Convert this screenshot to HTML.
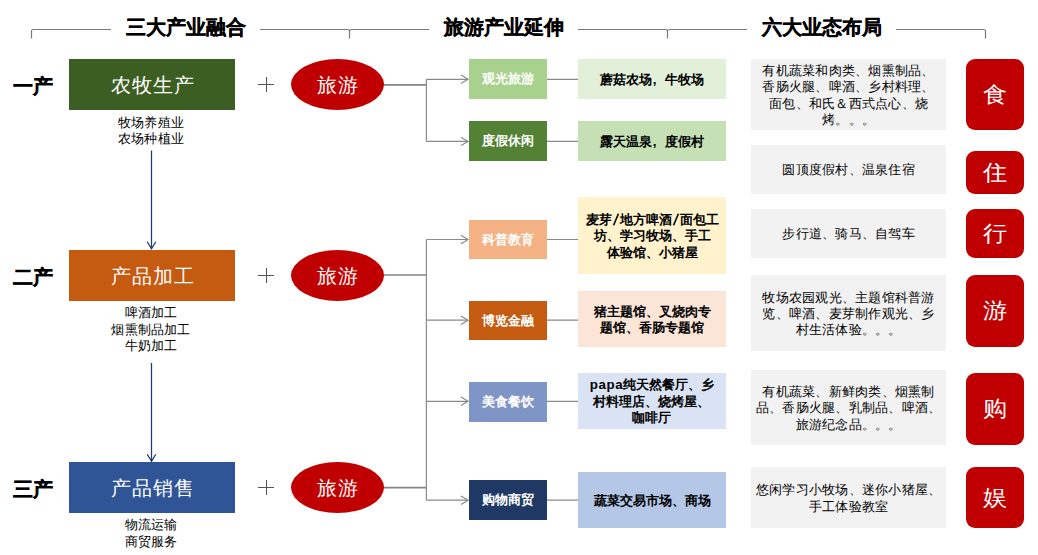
<!DOCTYPE html>
<html><head><meta charset="utf-8">
<style>
*{margin:0;padding:0;box-sizing:border-box}
html,body{width:1038px;height:555px;overflow:hidden;background:#fff}
body{position:relative;font-family:"Liberation Sans",sans-serif;color:#000}
.a{position:absolute}
.hd{position:absolute;font-size:20px;font-weight:bold;line-height:20px;white-space:nowrap;text-align:center;width:140px;-webkit-text-stroke:0.3px #000}
.lb{position:absolute;font-size:20px;font-weight:bold;line-height:20px;white-space:nowrap;left:13px;-webkit-text-stroke:0.35px #000}
.bb{position:absolute;left:69px;width:166px;height:51px;color:#fff;font-size:20px;line-height:53px;text-align:center;letter-spacing:1px;padding-left:1px}
.sub{position:absolute;left:68px;width:166px;font-size:13.33px;line-height:16.2px;letter-spacing:0.2px;text-align:center;color:#000}
.el{position:absolute;left:291px;width:93px;height:51px;border-radius:50%;background:#c00000;color:#fff;font-size:20px;line-height:53px;text-align:center;letter-spacing:1px;padding-left:1px}
.pl{position:absolute;left:258px;width:16px;height:15px}
.pl:before{content:"";position:absolute;left:0;top:7px;width:16px;height:1px;background:#555}
.pl:after{content:"";position:absolute;left:7.5px;top:0;width:1px;height:15px;background:#555}
.mb{position:absolute;left:469px;width:78px;color:#fff;font-weight:bold;font-size:13.33px;display:flex;align-items:center;justify-content:center}
.rb{position:absolute;left:578px;width:148px;color:#000;font-weight:bold;font-size:13.33px;line-height:16.5px;padding-top:2px;display:flex;align-items:center;justify-content:center;text-align:center}
.gb{position:absolute;left:751px;width:195px;background:#f2f2f2;color:#000;font-size:13.33px;letter-spacing:0.25px;line-height:16.1px;padding-top:2px;display:flex;align-items:center;justify-content:center;text-align:center}
.xb span{display:inline-block;transform:scaleX(1.1)}
.xb{position:absolute;left:966px;width:58px;background:#c00000;border-radius:9px;color:#fff;font-size:21.5px;padding-bottom:1px;display:flex;align-items:center;justify-content:center}
#lines{position:absolute;left:0;top:0}
.sl{display:inline-block;width:8px;height:13px;vertical-align:-2px}
.cm{display:inline-block;width:1em;text-align:left;padding-left:1px}
</style></head><body>

<svg id="lines" width="1038" height="555" viewBox="0 0 1038 555">
<g fill="none" stroke="#7a7a7a" stroke-width="1.2">
<path d="M31.5 38.5 V31 Q31.5 29.5 33 29.5 H111"/>
<path d="M260 29.5 H347.5 Q349.5 29.5 349.5 31.5 V38.5 M429 29.5 H351.5 Q349.5 29.5 349.5 31.5"/>
<path d="M578 29.5 H665.5 Q667.5 29.5 667.5 31.5 V38.5 M747 29.5 H669.5 Q667.5 29.5 667.5 31.5"/>
<path d="M896 29.5 H983.5 Q985.5 29.5 985.5 31 V38.5"/>
</g>
<g fill="none" stroke="#858585" stroke-width="1.7">
<path d="M384 84.8 H426.4 M384 275 H426.4 M384 487.6 H426.4"/>
</g>
<g fill="none" stroke="#8a8a8a" stroke-width="1.2">
<path d="M426.4 79.3 V141.4 M426.4 79.3 H468 M426.4 141.4 H468"/>
<path d="M461 75.1 L468 79.3 L461 83.5 M461 137.2 L468 141.4 L461 145.6"/>
<path d="M426.4 239.5 V500.2 M426.4 239.5 H468 M426.4 320.2 H468 M426.4 401.3 H468 M426.4 500.2 H468"/>
<path d="M461 235.3 L468 239.5 L461 243.7 M461 316 L468 320.2 L461 324.4 M461 397.1 L468 401.3 L461 405.5 M461 496 L468 500.2 L461 504.4"/>
<path d="M547 79.3 H578 M547 141.4 H578 M547 239.5 H578 M547 320.2 H578 M547 401.3 H578 M547 500.2 H578"/>
</g>
<g fill="none" stroke="#203a6e" stroke-width="1.25">
<path d="M151.5 150.4 V248.5 M147.2 241.7 L151.5 248.8 L155.8 241.7"/>
<path d="M151.5 363 V461 M147.2 454.3 L151.5 461.4 L155.8 454.3"/>
</g>
</svg>

<div class="hd" style="left:116px;top:17px">三大产业融合</div>
<div class="hd" style="left:434px;top:17px">旅游产业延伸</div>
<div class="hd" style="left:752px;top:17px">六大业态布局</div>

<div class="lb" style="top:76px">一产</div>
<div class="lb" style="top:266.5px">二产</div>
<div class="lb" style="top:478.5px">三产</div>

<div class="bb" style="top:59px;background:#3d5e23">农牧生产</div>
<div class="bb" style="top:250px;background:#c55a11">产品加工</div>
<div class="bb" style="top:462px;background:#2f5597">产品销售</div>

<div class="sub" style="top:114.6px">牧场养殖业<br>农场种植业</div>
<div class="sub" style="top:305.3px">啤酒加工<br>烟熏制品加工<br>牛奶加工</div>
<div class="sub" style="top:517.3px">物流运输<br>商贸服务</div>

<div class="pl" style="top:77px"></div>
<div class="pl" style="top:268px"></div>
<div class="pl" style="top:480px"></div>

<div class="el" style="top:59px">旅游</div>
<div class="el" style="top:250px">旅游</div>
<div class="el" style="top:462px">旅游</div>

<div class="mb" style="top:59px;height:40px;background:#a9d18e">观光旅游</div>
<div class="mb" style="top:121px;height:40px;background:#548235">度假休闲</div>
<div class="mb" style="top:220px;height:39px;background:#f4b183">科普教育</div>
<div class="mb" style="top:301px;height:39px;background:#c55a11">博览金融</div>
<div class="mb" style="top:382px;height:40px;background:#7f95c5">美食餐饮</div>
<div class="mb" style="top:480px;height:40px;background:#1f3864">购物商贸</div>

<div class="rb" style="top:59px;height:40px;background:#e2f0d9">蘑菇农场<span class="cm">,</span>牛牧场</div>
<div class="rb" style="top:121px;height:40px;background:#c5e0b4">露天温泉<span class="cm">,</span>度假村</div>
<div class="rb" style="top:197px;height:77px;background:#fff2cc"><div>麦芽<svg class="sl" viewBox="0 0 8 13"><path d="M1.6 12.3 L6.4 0.8" stroke="#000" stroke-width="1.6" fill="none"/></svg>地方啤酒<svg class="sl" viewBox="0 0 8 13"><path d="M1.6 12.3 L6.4 0.8" stroke="#000" stroke-width="1.6" fill="none"/></svg>面包工<br>坊、学习牧场、手工<br>体验馆、小猪屋</div></div>
<div class="rb" style="top:291px;height:56px;background:#fbe5d6">猪主题馆、叉烧肉专<br>题馆、香肠专题馆</div>
<div class="rb" style="top:373px;height:56px;background:#dae3f3"><div><span style="letter-spacing:0.6px">papa</span>纯天然餐厅、乡<br>村料理店、烧烤屋、<br>咖啡厅</div></div>
<div class="rb" style="top:472px;height:56px;background:#b4c7e7">蔬菜交易市场、商场</div>

<div class="gb" style="top:59px;height:71px">有机蔬菜和肉类、烟熏制品、<br>香肠火腿、啤酒、乡村料理、<br>面包、和氏＆西式点心、烧<br>烤。。。</div>
<div class="gb" style="top:145px;height:49px">圆顶度假村、温泉住宿</div>
<div class="gb" style="top:209px;height:49px">步行道、骑马、自驾车</div>
<div class="gb" style="top:275px;height:76px">牧场农园观光、主题馆科普游<br>览、啤酒、麦芽制作观光、乡<br>村生活体验。。。</div>
<div class="gb" style="top:370px;height:75px">有机蔬菜、新鲜肉类、烟熏制<br>品、香肠火腿、乳制品、啤酒、<br>旅游纪念品。。。</div>
<div class="gb" style="top:467px;height:61px">悠闲学习小牧场、迷你小猪屋、<br>手工体验教室</div>

<div class="xb" style="top:59px;height:71px"><span>食</span></div>
<div class="xb" style="top:151px;height:43px"><span>住</span></div>
<div class="xb" style="top:209px;height:49px"><span>行</span></div>
<div class="xb" style="top:275px;height:72px"><span>游</span></div>
<div class="xb" style="top:373px;height:72px"><span>购</span></div>
<div class="xb" style="top:467px;height:61px"><span>娱</span></div>

</body></html>
